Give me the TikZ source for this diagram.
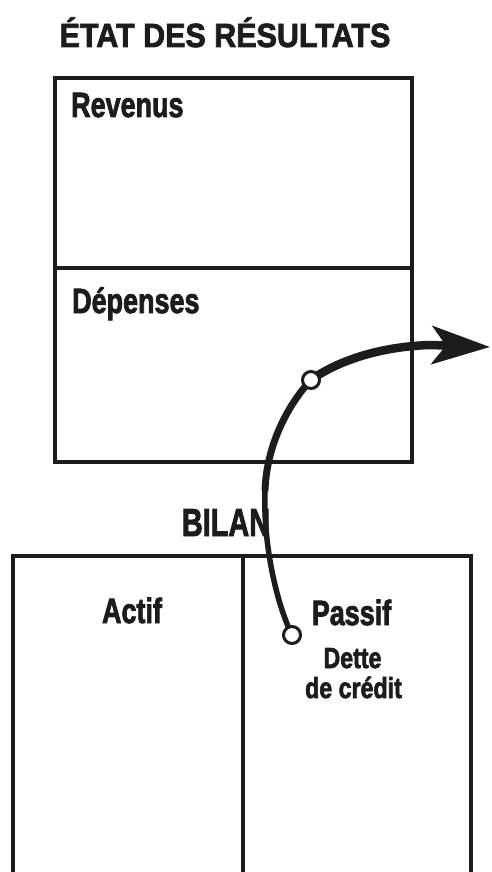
\documentclass[tikz,border=0pt]{standalone}
\usepackage{graphicx}
\usepackage{fontspec}
\setmainfont{Liberation Sans}[BoldFeatures={FakeBold=2.5}]
\usetikzlibrary{arrows.meta}
\definecolor{ink}{HTML}{1C1C1C}
\newcommand{\lbl}[3]{{\fontsize{#2}{#2}\selectfont\bfseries\scalebox{#1}[1]{#3}}}
\begin{document}
\begin{tikzpicture}[x=1pt,y=-1pt,
  box/.style={draw=ink, line width=4pt},
  labw/.style={inner sep=0pt, anchor=base west, text=ink},
  labc/.style={inner sep=0pt, anchor=base, text=ink},
  dot/.style={circle, draw=ink, fill=white, line width=3pt, minimum size=17pt, inner sep=0pt},
  conn/.style={draw=ink, line cap=round}]
\useasboundingbox (0,0) rectangle (491,872);
% title
\node[labc] (title) at (225,47) {\lbl{0.91}{33.5}{ÉTAT DES RÉSULTATS}};
% income statement box
\draw[box] (55,78) rectangle (412,462);
\draw[box] (55,268) -- (412,268);
\node[labw] (rev) at (71,117) {\lbl{0.77}{35}{Revenus}};
\node[labw] (dep) at (72,313) {\lbl{0.77}{35}{Dépenses}};
% balance sheet
\node[labc] (bilan) at (226,536) {\lbl{0.74}{39}{BILAN}};
\draw[box] (13,872) -- (13,556) -- (471,556) -- (471,872);
\draw[box] (243,556) -- (243,872);
\node[labc] (actif) at (132,623) {\lbl{0.77}{35}{Actif}};
\node[labc] (passif) at (351.5,625) {\lbl{0.77}{35}{Passif}};
\node[labc] (dette) at (352.5,668) {\lbl{0.8}{29}{Dette}};
\node[labc] (credit) at (353.5,698) {\lbl{0.8}{29}{de crédit}};
% connector
\coordinate (p1) at (292,635);
\coordinate (p2) at (311,380);
\coordinate (m) at (265,490);
\coordinate (tip) at (490,347);
\draw[conn, line width=5.5pt] (p1) .. controls (275,600) and (263,540) .. (m);
\draw[conn, line width=7pt] (m) .. controls (267,440) and (292,400) .. (p2);
\draw[conn, line width=8.5pt, -{Stealth[length=58pt, width=38pt, inset=14pt]}]
  (p2) .. controls (330,366) and (370,347) .. (430,345) -- (tip);
\node[dot] (c1) at (p1) {};
\node[dot] (c2) at (p2) {};
\end{tikzpicture}
\end{document}
